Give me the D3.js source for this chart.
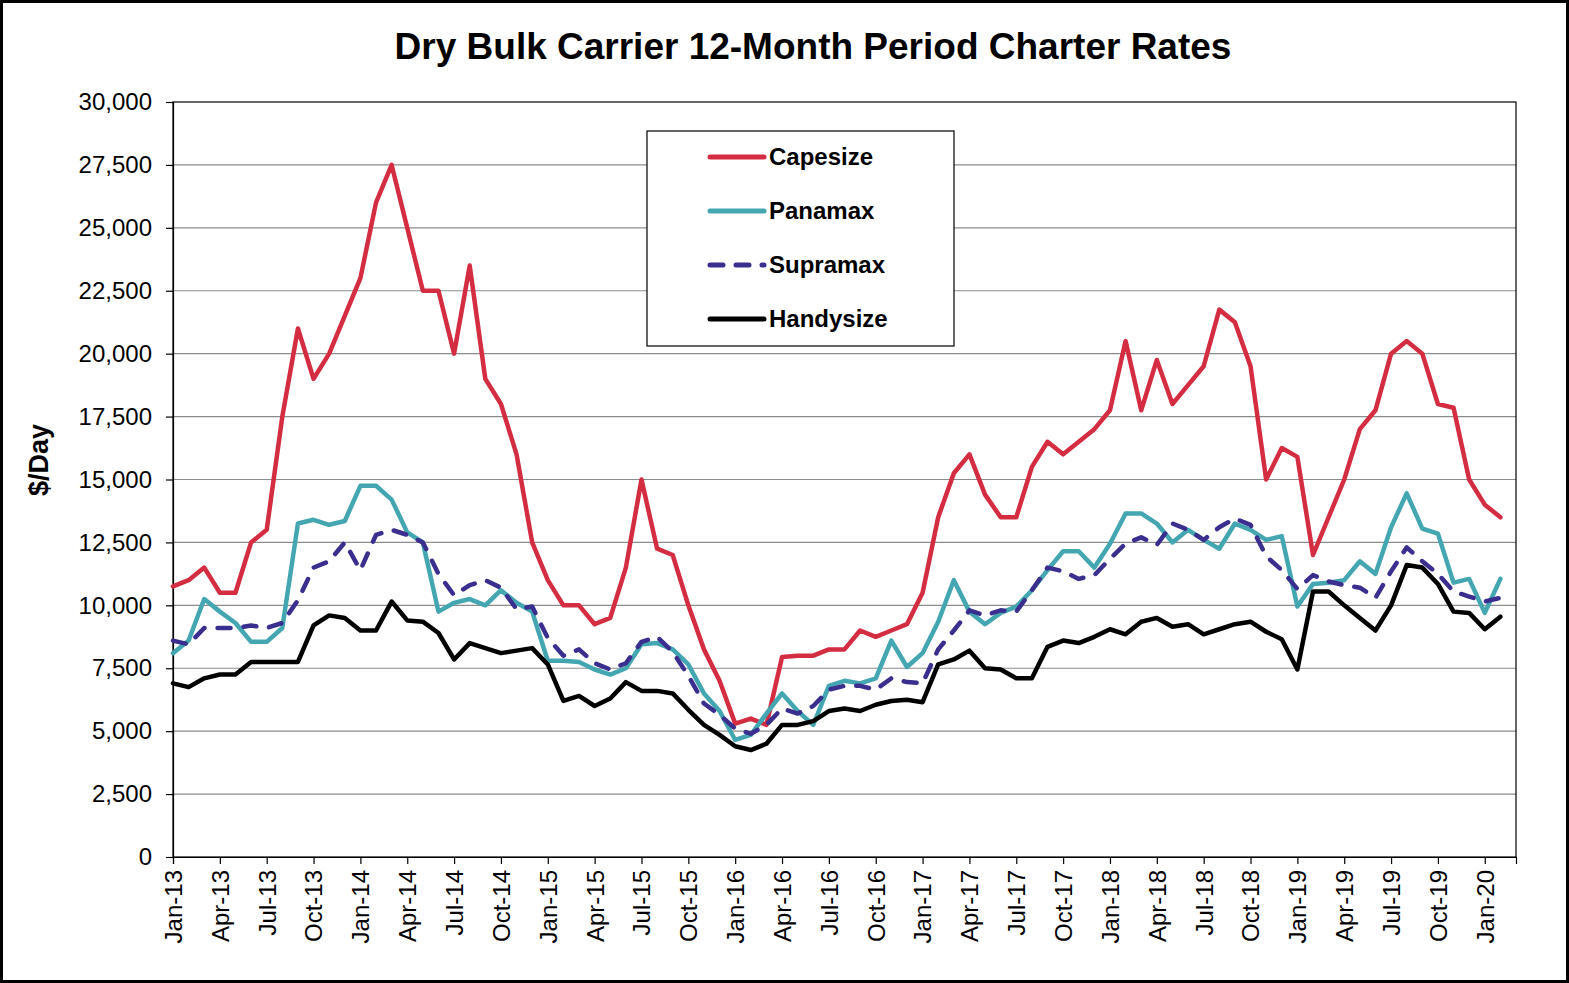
<!DOCTYPE html>
<html>
<head>
<meta charset="utf-8">
<script src="https://cdn.jsdelivr.net/npm/d3@7"></script>
<style>
  html, body { margin: 0; padding: 0; background: #fff; }
  svg { display: block; font-family: "Liberation Sans", Arial, sans-serif; }
</style>
</head>
<body>
<svg id="chart" width="1569" height="983"></svg>
<script>
// ---- data ----
const startMonth = "2013-01";
const endMonth = "2020-03"; // axis extends one month past last data point
const tickLabels = ["Jan-13","Apr-13","Jul-13","Oct-13","Jan-14","Apr-14","Jul-14","Oct-14",
  "Jan-15","Apr-15","Jul-15","Oct-15","Jan-16","Apr-16","Jul-16","Oct-16",
  "Jan-17","Apr-17","Jul-17","Oct-17","Jan-18","Apr-18","Jul-18","Oct-18",
  "Jan-19","Apr-19","Jul-19","Oct-19","Jan-20"];
const yTicks = [0,2500,5000,7500,10000,12500,15000,17500,20000,22500,25000,27500,30000];

const capesize = [10750,11000,11500,10500,10500,12500,13000,17500,21000,19000,20000,21500,
  23000,26000,27500,25000,22500,22500,20000,23500,19000,18000,16000,12500,
  11000,10000,10000,9250,9500,11500,15000,12250,12000,10000,8250,7000,
  5300,5500,5250,7950,8000,8000,8250,8250,9000,8750,9000,9250,
  10500,13500,15250,16000,14400,13500,13500,15500,16500,16000,16500,17000,
  17750,20500,17750,19750,18000,18750,19500,21750,21250,19500,15000,16250,
  15900,12000,13500,15000,17000,17750,20000,20500,20000,18000,17850,15000,
  14000,13500];
const panamax = [8100,8600,10250,9750,9300,8550,8550,9100,13250,13400,13200,13350,
  14750,14750,14200,12900,12500,9750,10100,10250,10000,10600,10100,9750,
  7800,7800,7750,7450,7250,7500,8450,8500,8250,7650,6500,5800,
  4650,4850,5700,6500,5800,5250,6800,7000,6900,7100,8600,7550,
  8100,9350,11000,9750,9250,9700,9950,10600,11400,12150,12150,11500,
  12450,13650,13650,13250,12500,13000,12600,12250,13250,13000,12600,12750,
  9950,10850,10900,11000,11750,11250,13100,14450,13050,12850,10900,11050,
  9700,11050];
const supramax = [8600,8450,9100,9100,9100,9200,9100,9300,10200,11500,11750,12500,
  11400,12800,13000,12800,12500,11250,10400,10800,11000,10700,9850,9950,
  8700,8000,8250,7700,7450,7700,8550,8750,8150,7200,6100,5650,
  5100,4900,5250,5900,5700,6000,6650,6800,6800,6650,7100,6950,
  6900,8250,9000,9800,9600,9800,9750,10600,11500,11350,11050,11200,
  11850,12450,12700,12400,13250,13000,12600,13100,13450,13200,11950,11400,
  10650,11200,10950,10800,10700,10300,11350,12300,11750,11250,10550,10350,
  10150,10300];
const handysize = [6900,6750,7100,7250,7250,7750,7750,7750,7750,9200,9600,9500,
  9000,9000,10150,9400,9350,8900,7850,8500,8300,8100,8200,8300,
  7650,6200,6400,6000,6300,6950,6600,6600,6500,5850,5250,4850,
  4400,4250,4500,5250,5250,5400,5800,5900,5800,6050,6200,6250,
  6150,7650,7850,8200,7500,7450,7100,7100,8350,8600,8500,8750,
  9050,8850,9350,9500,9150,9250,8850,9050,9250,9350,8950,8650,
  7450,10550,10550,10000,9500,9000,10000,11600,11500,10850,9750,9700,
  9050,9550];

const seriesNames = ["Capesize","Panamax","Supramax","Handysize"];
const seriesColors = ["#d42d42","#43a6b0","#3a2e8f","#000000"];
const seriesDash = [null,null,"13,13",null];

// ---- build categories ----
const fmt = d3.timeFormat("%b-%y");
const parse = d3.timeParse("%Y-%m");
const months = d3.timeMonth.range(parse(startMonth), d3.timeMonth.offset(parse(endMonth), 1));
const categories = months.map(fmt);

const seriesValues = [capesize, panamax, supramax, handysize];

// ---- layout ----
const svg = d3.select("#chart");
const W = 1569, H = 983;
const plot = { left: 173, top: 102, right: 1516, bottom: 857 };

svg.append("rect").attr("x",1.5).attr("y",1.5).attr("width",W-3).attr("height",H-3)
  .attr("fill","#fff").attr("stroke","#000").attr("stroke-width",3);

const x = d3.scalePoint().domain(categories).range([plot.left, plot.right]);
const y = d3.scaleLinear().domain([0,30000]).range([plot.bottom, plot.top]);

// gridlines
svg.append("g").selectAll("line").data(yTicks.filter(d => d > 0 && d < 30000)).join("line")
  .attr("x1", plot.left).attr("x2", plot.right)
  .attr("y1", d => y(d)).attr("y2", d => y(d))
  .attr("stroke", "#8c8c8c").attr("stroke-width", 1.2);

// plot border
svg.append("rect").attr("x", plot.left).attr("y", plot.top)
  .attr("width", plot.right - plot.left).attr("height", plot.bottom - plot.top)
  .attr("fill","none").attr("stroke","#000").attr("stroke-width",1.2);

// y axis
const yAxis = d3.axisLeft(y).tickValues(yTicks).tickSize(7).tickPadding(14)
  .tickFormat(d3.format(","));
const gy = svg.append("g").attr("transform", `translate(${plot.left},0)`).call(yAxis);
gy.select(".domain").attr("stroke","#000").attr("stroke-width",1.2);
gy.selectAll(".tick line").attr("stroke","#000").attr("stroke-width",1.2);
gy.selectAll(".tick text").attr("font-size", 24).attr("fill","#000")
  .attr("font-family", "Liberation Sans, Arial, sans-serif");

// x axis
const xAxis = d3.axisBottom(x).tickValues(tickLabels).tickSize(7).tickPadding(0);
const gx = svg.append("g").attr("transform", `translate(0,${plot.bottom})`).call(xAxis);
gx.select(".domain").attr("stroke","#000").attr("stroke-width",1.2);
gx.selectAll(".tick line").attr("stroke","#000").attr("stroke-width",1.2);
gx.selectAll(".tick text").attr("font-size", 24).attr("fill","#000")
  .attr("font-family", "Liberation Sans, Arial, sans-serif")
  .attr("transform", "rotate(-90)")
  .attr("text-anchor", "end")
  .attr("x", -13).attr("y", 0).attr("dy", "0.35em");

// lines
const line = d3.line().x((d,i) => x(categories[i])).y(d => y(d));
const linesG = svg.append("g");
seriesValues.forEach((vals, k) => {
  linesG.append("path").datum(vals)
    .attr("d", line)
    .attr("fill","none")
    .attr("stroke", seriesColors[k])
    .attr("stroke-width", 4.5)
    .attr("stroke-linejoin","round")
    .attr("stroke-linecap","round")
    .attr("stroke-dasharray", seriesDash[k]);
});

// title
svg.append("text").attr("x", 813).attr("y", 59).attr("text-anchor","middle")
  .attr("font-size", 37).attr("font-weight","bold").attr("fill","#000")
  .text("Dry Bulk Carrier 12-Month Period Charter Rates");

// y label
svg.append("text").attr("transform","translate(48,460) rotate(-90)")
  .attr("text-anchor","middle").attr("font-size", 27).attr("font-weight","bold")
  .attr("fill","#000").text("$/Day");

// legend
const leg = svg.append("g");
leg.append("rect").attr("x",647).attr("y",131).attr("width",307).attr("height",215)
  .attr("fill","#fff").attr("stroke","#000").attr("stroke-width",1.2);
const legY = [157, 211, 265, 319];
seriesNames.forEach((name, k) => {
  leg.append("line").attr("x1",710).attr("x2",764).attr("y1",legY[k]).attr("y2",legY[k])
    .attr("stroke", seriesColors[k]).attr("stroke-width",5)
    .attr("stroke-linecap","round")
    .attr("stroke-dasharray", seriesDash[k] ? "13,13" : null);
  leg.append("text").attr("x",769).attr("y",legY[k]).attr("dy","0.35em")
    .attr("font-size",24).attr("font-weight","bold").attr("fill","#000").text(name);
});
</script>
</body>
</html>
